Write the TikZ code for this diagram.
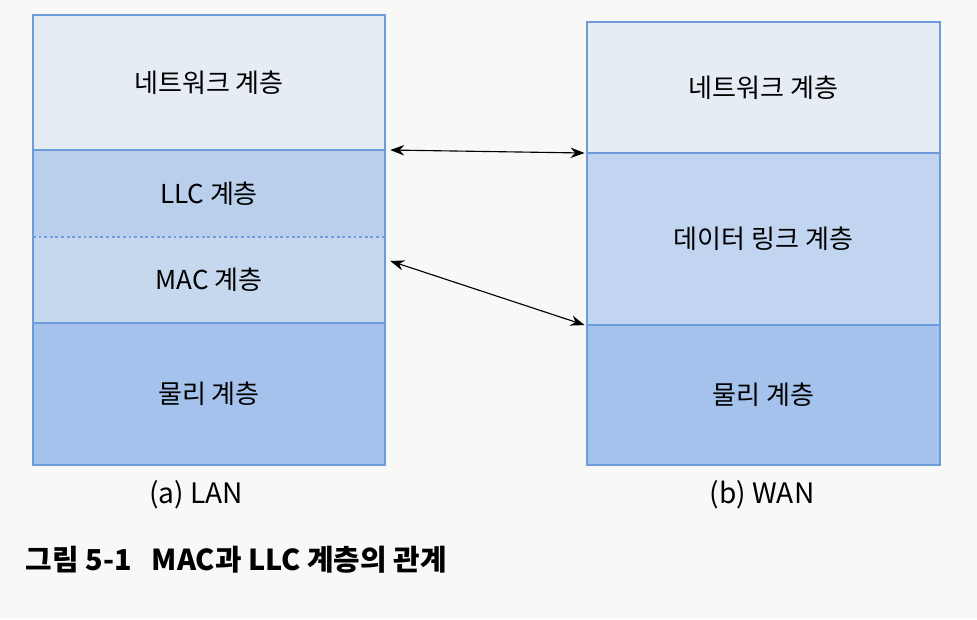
\documentclass[tikz,border=0pt]{standalone}
\usepackage{fontspec}
\setmainfont{Noto Sans CJK KR}
\usetikzlibrary{arrows.meta}
\definecolor{paper}{HTML}{F8F8F6}
\definecolor{edgeblue}{HTML}{6E9CDB}
\definecolor{netfill}{HTML}{E6ECF4}
\definecolor{llcfill}{HTML}{B9CFEC}
\definecolor{macfill}{HTML}{C6D8EE}
\definecolor{physfill}{HTML}{A4C2EC}
\definecolor{linkfill}{HTML}{C1D5F0}

\begin{document}
\begin{tikzpicture}[x=0.025cm, y=-0.025cm,
  layer/.style={draw=edgeblue, line width=1.1pt, inner sep=0pt, outer sep=0pt,
    font=\fontsize{18.5}{20}\selectfont},
  lanlayer/.style={layer, minimum width=8.8cm},
  wanlayer/.style={layer, minimum width=8.825cm},
  link/.style={{Stealth[length=3.5mm, width=2.6mm]}-{Stealth[length=3.5mm, width=2.6mm]}, line width=0.8pt}]
  \useasboundingbox[fill=paper] (0, 0) rectangle (977, 619);

  % (a) LAN
  \node[lanlayer, fill=netfill, minimum height=3.375cm] (lannet) at (209, 82.5) {네트워크 계층};
  \node[lanlayer, fill=llcfill, draw=none, minimum height=2.175cm] (lanllc) at (209, 193.5) {LLC 계층};
  \node[lanlayer, fill=macfill, draw=none, minimum height=2.15cm] (lanmac) at (209, 280) {MAC 계층};
  \node[lanlayer, fill=physfill, minimum height=3.55cm] (lanphys) at (209, 394) {물리 계층};
  \draw[edgeblue, line width=1.1pt] (lanllc.north west) rectangle (lanmac.south east);
  \draw[edgeblue, line width=0.8pt, dashed, dash pattern=on 2pt off 2pt] (lanllc.south west) -- (lanllc.south east);

  % (b) WAN
  \node[wanlayer, fill=netfill, minimum height=3.275cm] (wannet) at (763.5, 87.5) {네트워크 계층};
  \node[wanlayer, fill=linkfill, minimum height=4.3cm] (wanlink) at (763.5, 239) {데이터 링크 계층};
  \node[wanlayer, fill=physfill, minimum height=3.5cm] (wanphys) at (763.5, 395) {물리 계층};

  \draw[link] ([xshift=0.13cm]lannet.south east) -- ([xshift=-0.06cm]wannet.south west);
  \draw[link] ([xshift=0.13cm, yshift=-0.6cm]lanmac.north east) -- ([xshift=-0.06cm]wanlink.south west);

  \node[font=\fontsize{20}{22}\selectfont] (lancap) at (196, 495) {(a) LAN};
  \node[font=\fontsize{20}{22}\selectfont] (wancap) at (762, 495) {(b) WAN};
  \node[anchor=west, font=\bfseries\fontsize{20.5}{22}\selectfont] (title) at (21, 560) {그림 5-1\hspace{0.7em}MAC과 LLC 계층의 관계};
\end{tikzpicture}
\end{document}
